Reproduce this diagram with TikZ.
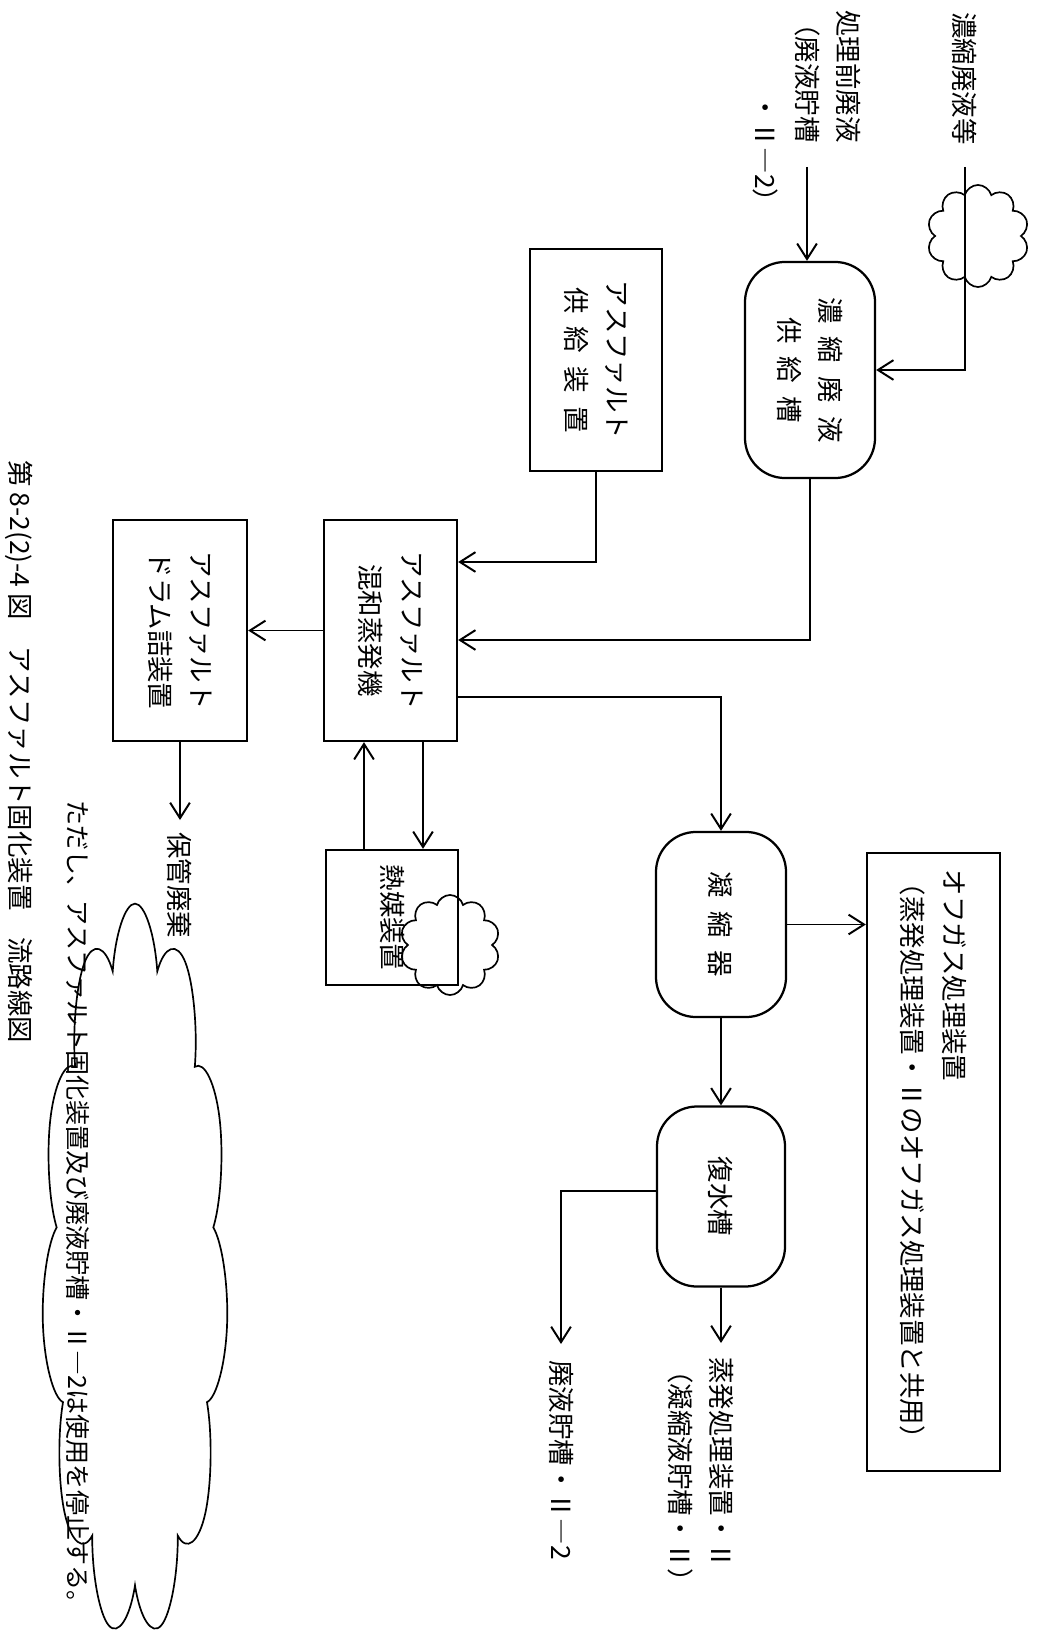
\documentclass[tikz,border=0pt]{standalone}
\usepackage{fontspec}
\setmainfont{Noto Sans CJK JP}
\usetikzlibrary{arrows.meta,shapes.symbols}
\newcommand{\jsp}{\hspace{0.5em}}

\begin{document}
\begin{tikzpicture}[x=0.025cm,y=-0.025cm,
    txt/.style={rotate=-90,inner sep=0pt,font=\fontsize{18.8pt}{29.6pt}\selectfont,align=left},
    box/.style={draw,line width=1.6pt,rotate=-90,inner sep=2pt,
                font=\fontsize{18.8pt}{29.6pt}\selectfont,align=center},
    tankbox/.style={box,rounded corners=1cm},
    ar/.style={-{Straight Barb[length=11pt,width=14pt]},line width=1.4pt},
    puff/.style={draw,cloud,cloud puffs=10,cloud ignores aspect,line width=1.2pt}
  ]
  \useasboundingbox (0,0) rectangle (1037,1641);

  \node[txt,anchor=west] (src1) at (965,12) {濃縮廃液等};
  \node[txt,anchor=west] (src2) at (807,10) {処理前廃液\\（廃液貯槽\\\hspace*{3.2em}・Ⅱ―2）};

  \node[tankbox,minimum width=5.4cm,minimum height=3.25cm] (tank) at (810,370) {濃\jsp{}縮\jsp{}廃\jsp{}液\\供\jsp{}給\jsp{}槽};
  \node[box,minimum width=5.55cm,minimum height=3.3cm] (sup) at (596,360) {アスファルト\\供\jsp{}給\jsp{}装\jsp{}置};
  \node[box,minimum width=5.525cm,minimum height=3.325cm] (mix) at (390.5,630.5) {アスファルト\\混和蒸発機};
  \node[box,minimum width=5.525cm,minimum height=3.35cm] (drum) at (180,630.5) {アスファルト\\ドラム詰装置};
  \node[box,minimum width=3.375cm,minimum height=3.3cm] (heat) at (392,917.5) {熱媒装置};
  \node[tankbox,minimum width=4.625cm,minimum height=3.25cm] (cond) at (721,924.5) {凝\jsp{}縮\jsp{}器};
  \node[tankbox,minimum width=4.5cm,minimum height=3.2cm] (rec) at (721,1196.5) {復水槽};
  \node[box,minimum width=15.45cm,minimum height=3.325cm,text width=14.6cm,inner xsep=0.425cm,align=left] (off) at (933.5,1162)
    {オフガス処理装置\\（蒸発処理装置・Ⅱのオフガス処理装置と共用）};

  \node[txt,anchor=west] (store) at (180,832) {保管廃棄};
  \node[txt,anchor=west] (out1) at (701,1357) {蒸発処理装置・Ⅱ\\（凝縮液貯槽・Ⅱ）};
  \node[txt,anchor=west] (out2) at (561,1360) {廃液貯槽・Ⅱ―2};
  \node[txt,anchor=west,font=\fontsize{17.8pt}{24pt}\selectfont] (note) at (78,800)
    {ただし、アスファルト固化装置及び廃液貯槽・Ⅱ―2は使用を停止する。};
  \node[txt,anchor=west] (cap) at (19,460) {第 8-2(2)-4 図　アスファルト固化装置　流路線図};

  \coordinate (in1) at (965,167);
  \coordinate (in2) at (807,167);
  \draw[ar] (in1) |- (tank.north);
  \draw[ar] (in2) -- (in2 |- tank.west);
  \draw[ar] (tank.east) |- (mix.north |- 0,640);
  \draw[ar] (sup.east) |- (mix.north |- 0,562);
  \draw[ar] (mix.south) -- (drum.north);
  \draw[ar] (mix.north |- 0,697) -| (cond.west);
  \draw[ar] (mix.east -| 423,0) -- (heat.west -| 423,0);
  \draw[ar] (heat.west -| 364,0) -- (mix.east -| 364,0);
  \draw[ar,shorten >=0.3cm] (drum.east) -- (store.west);
  \draw[ar] (cond.north) -- (cond.north -| off.south);
  \draw[ar] (cond.east) -- (rec.west);
  \draw[ar,shorten >=0.35cm] (rec.east) -- (rec.east |- out1.west);
  \draw[ar,shorten >=0.4cm] (rec.south |- 0,1191) -| (out2.west);

  \node[puff,minimum width=2.55cm,minimum height=2.55cm] (cl1) at (978,236) {};
  \node[puff,minimum width=2.5cm,minimum height=2.5cm] (cl2) at (450,945) {};
  \node[puff,cloud puffs=11,minimum width=4.65cm,minimum height=4.65cm,yscale=3.96,transform shape] (cl3) at (135,1272) {};
\end{tikzpicture}
\end{document}
